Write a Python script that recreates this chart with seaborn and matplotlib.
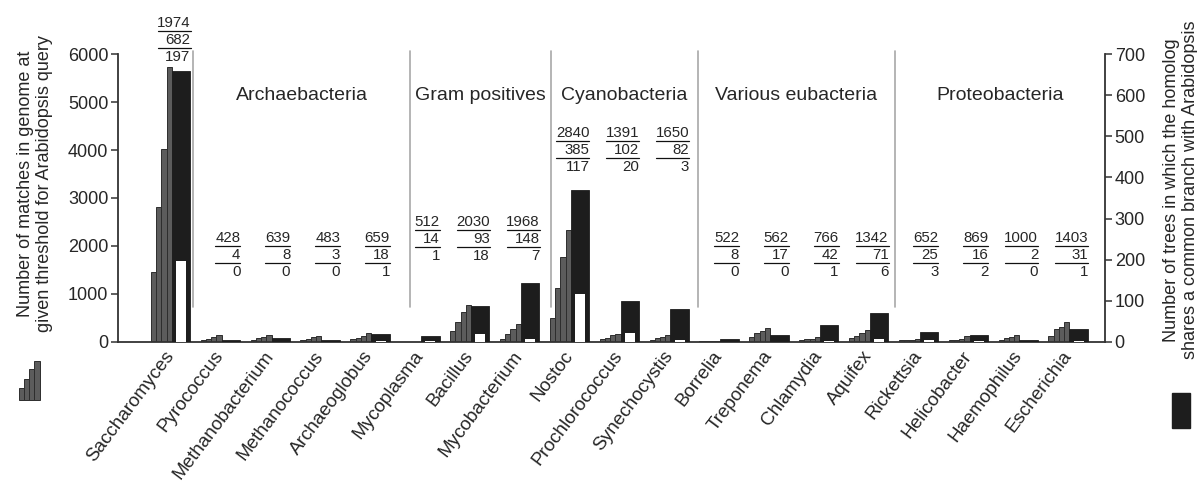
import numpy as np
import pandas as pd
import matplotlib
matplotlib.use("Agg")
import matplotlib.pyplot as plt
from matplotlib.patches import Rectangle
import seaborn as sns

# ---------------- data ----------------
organisms = ["Saccharomyces", "Pyrococcus", "Methanobacterium", "Methanococcus",
             "Archaeoglobus", "Mycoplasma", "Bacillus", "Mycobacterium", "Nostoc",
             "Prochlorococcus", "Synechocystis", "Borrelia", "Treponema", "Chlamydia",
             "Aquifex", "Rickettsia", "Helicobacter", "Haemophilus", "Escherichia"]

# matches in genome at four thresholds (left axis)
matches_t1 = [1460, 35, 45, 40, 50, 0, 215, 50, 500, 50, 45, 15, 105, 35, 70, 35, 30, 35, 120]
matches_t2 = [2820, 65, 70, 65, 75, 0, 405, 160, 1115, 85, 70, 15, 180, 50, 120, 40, 40, 70, 260]
matches_t3 = [4030, 95, 95, 95, 125, 0, 625, 265, 1775, 140, 95, 20, 230, 55, 175, 45, 65, 105, 315]
matches_t4 = [5740, 135, 135, 115, 190, 0, 770, 370, 2330, 160, 135, 25, 280, 90, 245, 55, 120, 140, 410]

# trees (right axis): black bars and white inner bars
trees_common = [660, 4, 8, 3, 18, 14, 88, 142, 370, 100, 80, 7, 17, 41, 70, 24, 16, 3, 31]
trees_inner = [197, 0, 0, 0, 1, 1, 18, 7, 117, 20, 3, 0, 0, 1, 6, 3, 2, 0, 1]

# numbers printed above each organism
label_top = [1974, 428, 639, 483, 659, 512, 2030, 1968, 2840, 1391, 1650, 522, 562, 766, 1342, 652, 869, 1000, 1403]
label_mid = [682, 4, 8, 3, 18, 14, 93, 148, 385, 102, 82, 8, 17, 42, 71, 25, 16, 2, 31]
label_bot = [197, 0, 0, 0, 1, 1, 18, 7, 117, 20, 3, 0, 0, 1, 6, 3, 2, 0, 1]

groups = ["Archaebacteria", "Gram positives", "Cyanobacteria", "Various eubacteria", "Proteobacteria"]

# ---------------- style ----------------
sns.set_style("white")
plt.rcParams["font.family"] = ["Liberation Sans", "DejaVu Sans"]

W, H = 1197, 484
fig = plt.figure(figsize=(W / 100, H / 100), dpi=100)
x0_px, x1_px, y0_px, y1_px = 118, 1105, 341.7, 54.3
ax = fig.add_axes([x0_px / W, (H - y0_px) / H, (x1_px - x0_px) / W, (y0_px - y1_px) / H])
ax2 = ax.twinx()

GREY = "#5c5c5c"
BLACK = "#1d1d1d"
SPINE = "#333333"

n = len(organisms)
idx = np.arange(n)

grey_df = pd.DataFrame({
    "pos": np.concatenate([idx - 0.185] * 4),
    "value": np.concatenate([matches_t1, matches_t2, matches_t3, matches_t4]),
    "level": np.repeat(["t1", "t2", "t3", "t4"], n),
})
sns.barplot(data=grey_df, x="pos", y="value", hue="level", native_scale=True,
            palette=[GREY] * 4, width=0.42, dodge=True, errorbar=None,
            edgecolor="#2e2e2e", linewidth=0.7, legend=False, ax=ax, zorder=2)

tree_df = pd.DataFrame({"pos": idx + 0.21, "common": trees_common, "inner": trees_inner})
sns.barplot(data=tree_df, x="pos", y="common", native_scale=True, color=BLACK,
            saturation=1, width=0.37, errorbar=None, edgecolor=BLACK, linewidth=0.6,
            ax=ax2, zorder=2)
sns.barplot(data=tree_df, x="pos", y="inner", native_scale=True, color="white",
            saturation=1, width=0.2, errorbar=None, linewidth=0, ax=ax2, zorder=3)

xlim = (-1.055, 18.74)
for a in (ax, ax2):
    a.set_xlim(*xlim)
    a.set_xlabel("")
    a.set_ylabel("")
ax.set_ylim(0, 6000)
ax2.set_ylim(0, 700)

# spines & ticks
for s in ["top", "right"]:
    ax.spines[s].set_visible(False)
for s in ["top", "left", "bottom"]:
    ax2.spines[s].set_visible(False)
for sp in [ax.spines["left"], ax.spines["bottom"], ax2.spines["right"]]:
    sp.set_color(SPINE)
    sp.set_linewidth(1.3)

ax.set_yticks(np.arange(0, 6001, 1000))
ax2.set_yticks(np.arange(0, 701, 100))
ax.tick_params(axis="y", labelsize=13, length=5, width=1.1, color=SPINE, pad=2, left=True)
ax2.tick_params(axis="y", labelsize=13, length=5, width=1.1, color=SPINE, pad=2, right=True)
ax2.tick_params(axis="x", bottom=False, labelbottom=False, top=False, labeltop=False)
ax.set_xticks(idx)
ax.set_xticklabels(organisms, rotation=53, ha="right", va="center",
                   rotation_mode="anchor", fontsize=13.6)
ax.tick_params(axis="x", length=0, pad=8, bottom=True, labelbottom=True)

# group separators and labels
seps = [0.45, 4.8, 7.63, 10.57, 14.52]
for s in seps:
    ax.plot([s, s], [730, 6075], color="#a8a8a8", lw=1.2, clip_on=False, zorder=1)
bounds = seps + [xlim[1]]
for g, a_, b_ in zip(groups, bounds[:-1], bounds[1:]):
    ax.text((a_ + b_) / 2, 5150, g, ha="center", va="center", fontsize=14)

# fraction labels above bars
label_y = [6650] + [2165] * 4 + [2500] * 3 + [4357] * 3 + [2165] * 4 + [2165] * 4
px_per_unit_x = (x1_px - x0_px) / (xlim[1] - xlim[0])
px_per_val = (y0_px - y1_px) / 6000
step = 17 / px_per_val
for i in range(n):
    xr = i + 0.40
    yt = label_y[i]
    for k, v in enumerate([label_top[i], label_mid[i], label_bot[i]]):
        ax.text(xr, yt - k * step, str(v), ha="right", va="center", fontsize=10.8,
                clip_on=False)
    w = (len(str(label_top[i])) * 8.0 + 1) / px_per_unit_x
    for k in range(2):
        yl = yt - k * step - 7.8 / px_per_val
        ax.plot([xr - w, xr], [yl, yl], color="#111111", lw=0.9, clip_on=False)

# axis titles
fig.text(35 / W, 1 - 184 / H, "Number of matches in genome at\ngiven threshold for Arabidopsis query",
         rotation=90, ha="center", va="center", fontsize=13, linespacing=1.15)
fig.text(1181 / W, 1 - 190 / H, "Number of trees in which the homolog\nshares a common branch with Arabidopsis",
         rotation=90, ha="center", va="center", fontsize=13, linespacing=1.15)

# legend glyphs
stair_h = [12, 21, 31, 39]
for k, h in enumerate(stair_h):
    fig.patches.append(Rectangle(((18.5 + k * 5.3) / W, (H - 400) / H), 5.3 / W, h / H,
                                 transform=fig.transFigure, facecolor=GREY,
                                 edgecolor="#2e2e2e", linewidth=0.7))
fig.patches.append(Rectangle((1172 / W, (H - 428) / H), 18 / W, 35 / H,
                             transform=fig.transFigure, facecolor=BLACK, edgecolor=BLACK))

fig.savefig("out.png", dpi=100)
